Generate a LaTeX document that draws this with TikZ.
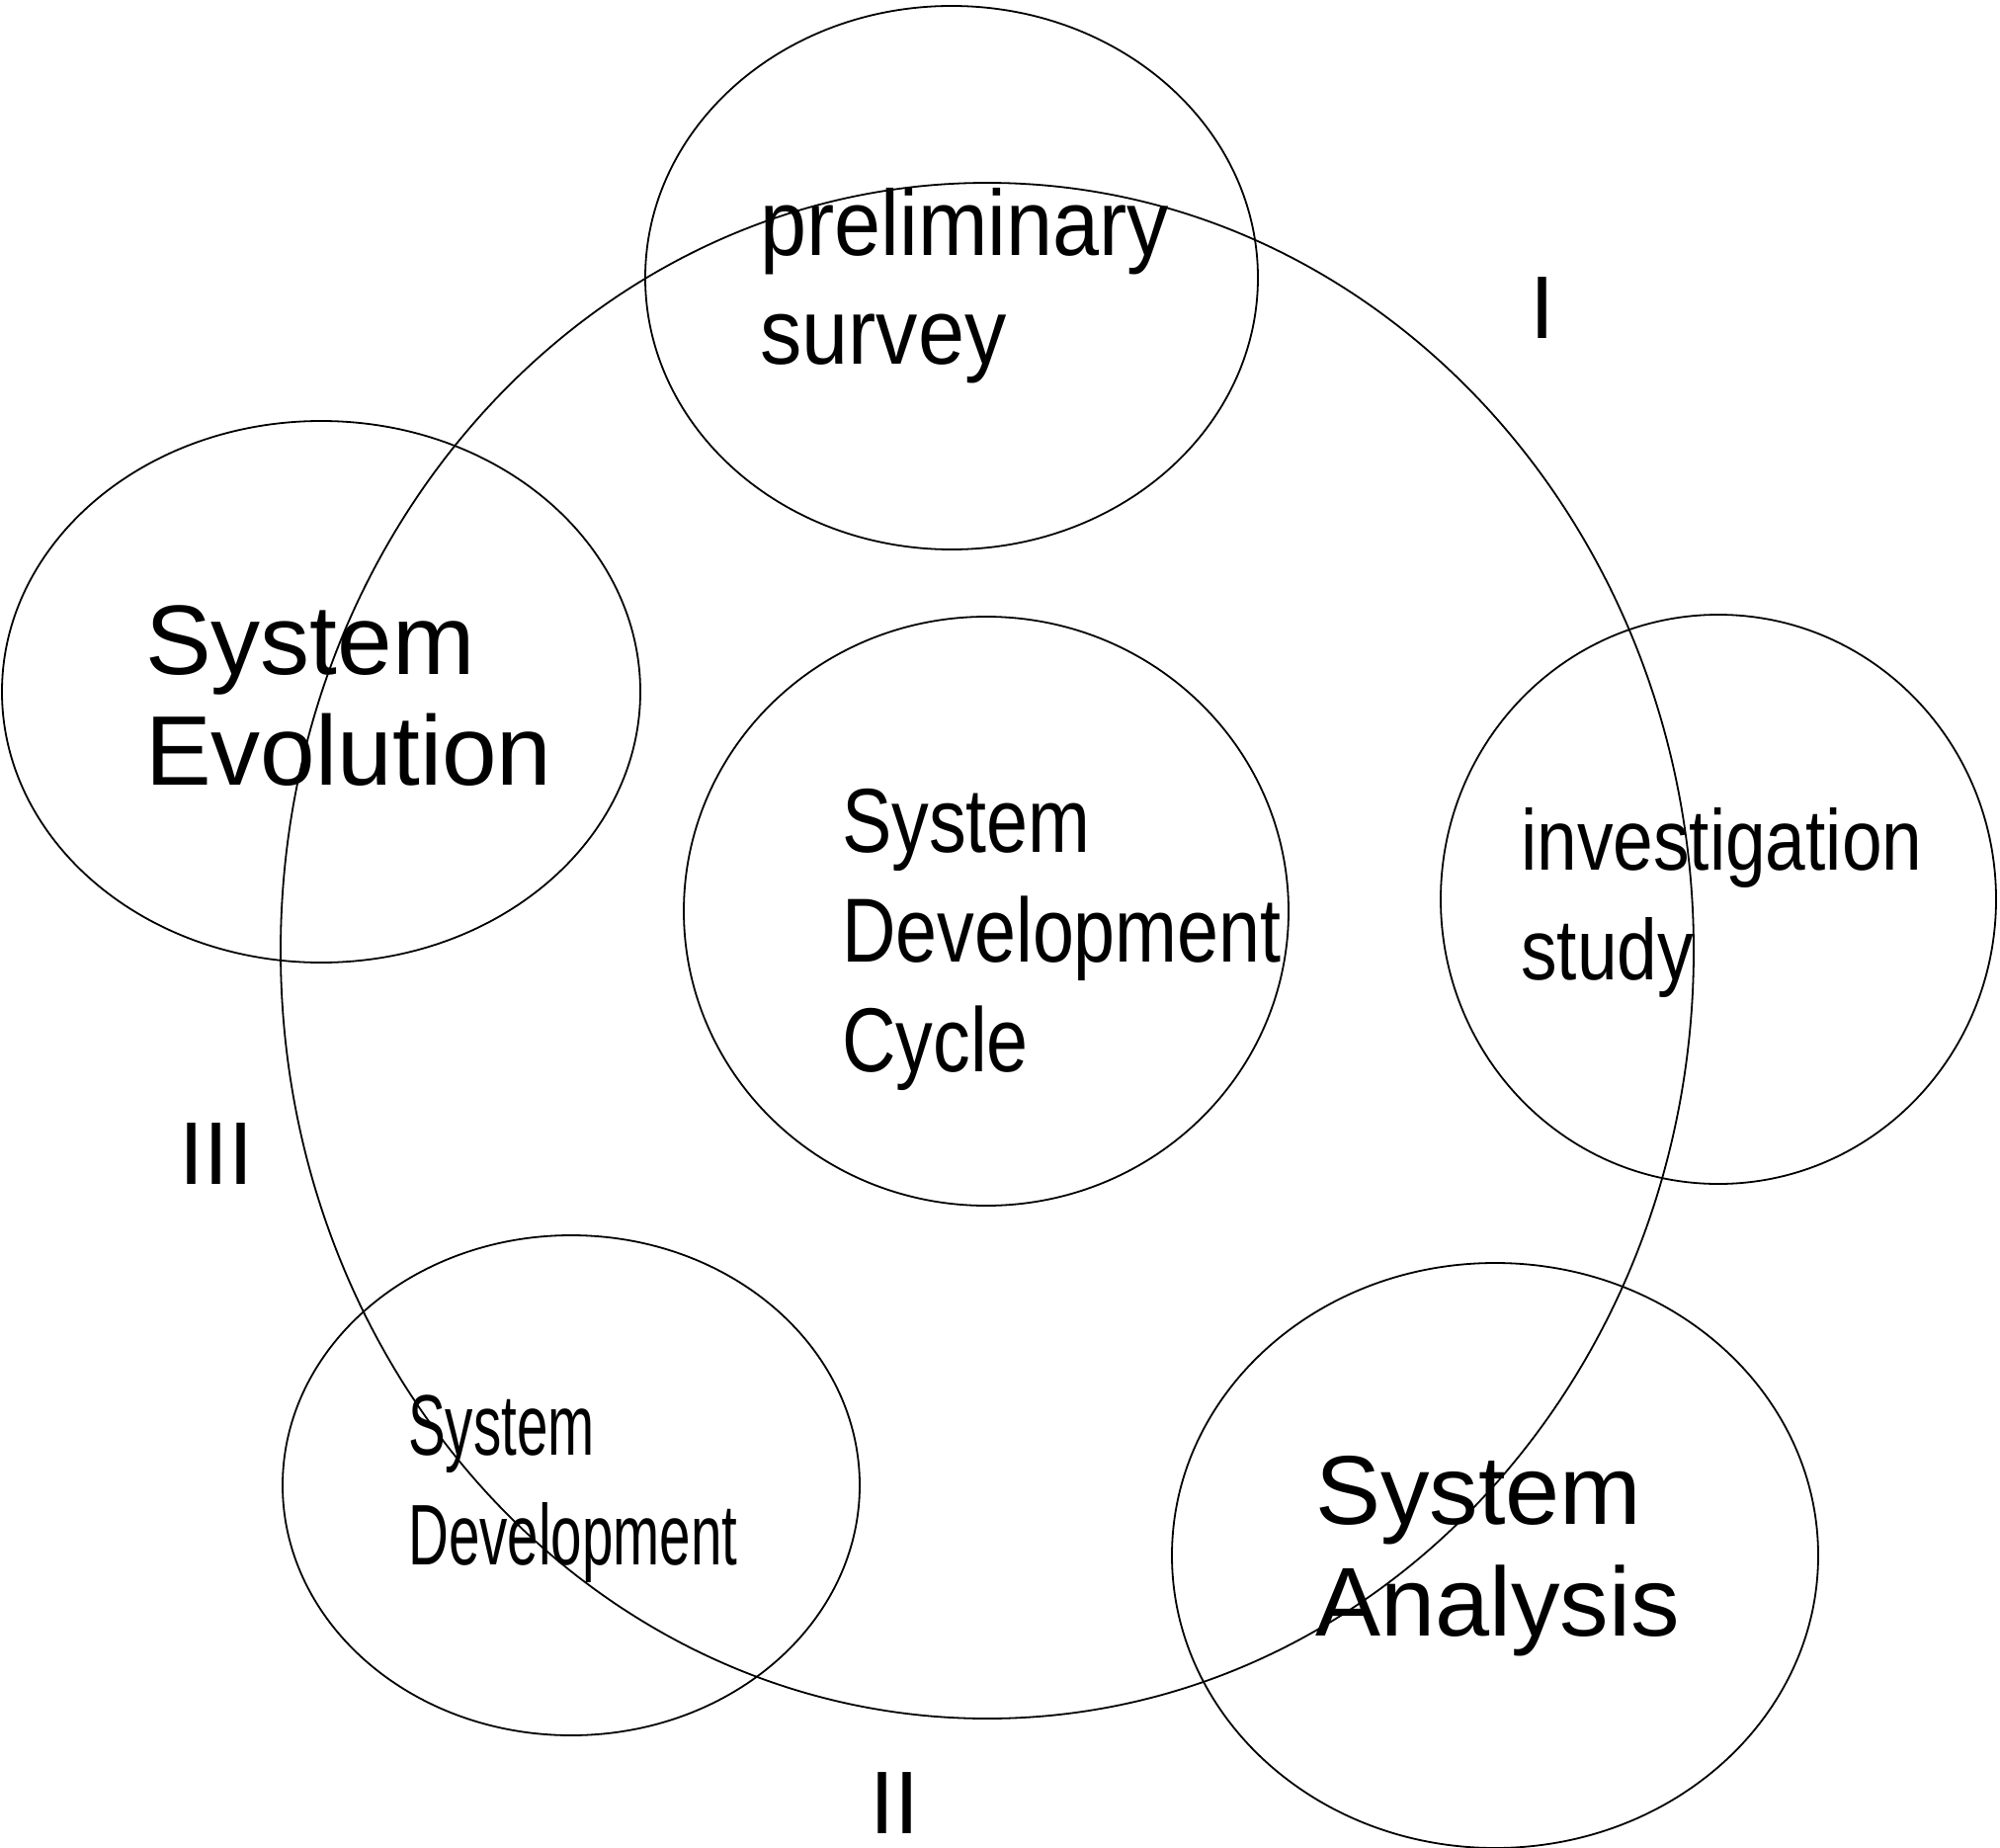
\documentclass[tikz,border=0pt]{standalone}
\usepackage{fontspec}
\usetikzlibrary{shapes.geometric}
\newfontfamily\fnorm{Liberation Sans}
\newfontfamily\fnine[FakeStretch=0.90]{Liberation Sans}
\newfontfamily\feight[FakeStretch=0.82]{Liberation Sans}
\newfontfamily\feightfour[FakeStretch=0.84]{Liberation Sans}
\newfontfamily\fsix[FakeStretch=0.65]{Liberation Sans}
\begin{document}
\begin{tikzpicture}[x=1pt,y=-1pt,
  oval/.style={ellipse,draw,line width=1.8pt,inner sep=0pt},
  lbl/.style={anchor=base west,inner sep=0pt,align=left}]
\useasboundingbox[fill=white] (0,0) rectangle (2024,1870);
% big cycle
\node[oval,minimum width=1430pt,minimum height=1554pt] (big) at (999,962) {};
% phase ellipses
\node[oval,minimum width=620pt,minimum height=550pt] (prelim) at (963,281) {};
\node[oval,minimum width=646pt,minimum height=548pt] (evol) at (325,700) {};
\node[oval,minimum width=612pt,minimum height=596pt] (sdc) at (998,922) {};
\node[oval,minimum width=562pt,minimum height=576pt] (invest) at (1739,910) {};
\node[oval,minimum width=584pt,minimum height=506pt] (sysdev) at (578,1503) {};
\node[oval,minimum width=654pt,minimum height=592pt] (analysis) at (1513,1574) {};
% texts (anchor = baseline of the last line)
\node[lbl,font=\fnine\fontsize{94}{110}\selectfont] (tprelim) at (769,368) {preliminary\\survey};
\node[lbl,font=\feight\fontsize{92}{111}\selectfont] (tsdc) at (852,1084) {System\\Development\\Cycle};
\node[lbl,font=\feightfour\fontsize{87}{111}\selectfont] (tinvest) at (1539,991) {investigation\\study};
\node[lbl,font=\fsix\fontsize{87}{111}\selectfont] (tsysdev) at (413,1583) {System\\Development};
\node[lbl,font=\fnorm\fontsize{100}{112}\selectfont] (tevol) at (147,794) {System\\Evolution};
\node[lbl,font=\fnorm\fontsize{99}{113}\selectfont] (tanalysis) at (1331,1655) {System\\Analysis};
\node[lbl,font=\fnorm\fontsize{90}{100}\selectfont] (rI) at (1548,342) {I};
\node[lbl,font=\fnorm\fontsize{90}{100}\selectfont] (rIII) at (181,1198) {III};
\node[lbl,font=\fnorm\fontsize{90}{100}\selectfont] (rII) at (880,1855) {II};
\end{tikzpicture}
\end{document}
